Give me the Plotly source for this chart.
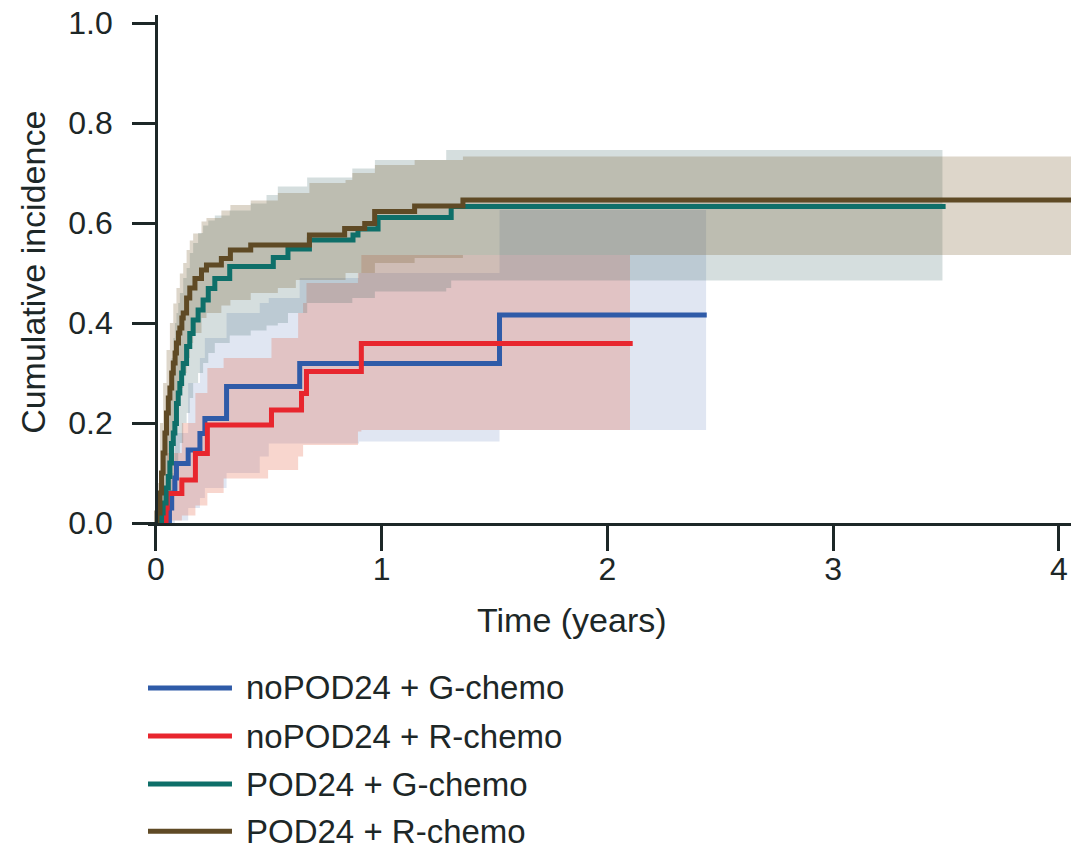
import plotly.graph_objects as go

# ---------------- data ----------------
series_names = ["noPOD24 + G-chemo", "noPOD24 + R-chemo", "POD24 + G-chemo", "POD24 + R-chemo"]
line_colors = ["#2f5ba8", "#e8262e", "#0e6f69", "#5f4a25"]
band_colors = ["rgba(46,90,168,0.15)", "rgba(228,90,60,0.25)", "rgba(45,90,90,0.20)", "rgba(120,90,45,0.25)"]

# noPOD24 + G-chemo
blue_t = [0, 0.060, 0.070, 0.084, 0.091, 0.143, 0.195, 0.217, 0.313, 0.637, 1.522]
blue_y = [0, 0.030, 0.060, 0.090, 0.119, 0.146, 0.179, 0.209, 0.273, 0.319, 0.416]
blue_end = 2.44
blue_band_t = [0.060, 0.084, 0.143, 0.195, 0.217, 0.313, 0.460, 0.500, 0.637, 0.900, 1.522]
blue_lo = [0.000, 0.005, 0.030, 0.050, 0.070, 0.100, 0.133, 0.159, 0.159, 0.163, 0.186]
blue_hi = [0.100, 0.180, 0.280, 0.330, 0.370, 0.420, 0.440, 0.450, 0.490, 0.500, 0.626]
blue_band_end = 2.437

# noPOD24 + R-chemo
red_t = [0, 0.045, 0.050, 0.115, 0.175, 0.228, 0.512, 0.645, 0.667, 0.910]
red_y = [0, 0.030, 0.059, 0.086, 0.139, 0.196, 0.226, 0.259, 0.303, 0.359]
red_end = 2.112
red_band_t = [0.045, 0.050, 0.115, 0.175, 0.228, 0.300, 0.497, 0.512, 0.630, 0.652, 0.667, 0.895, 0.910]
red_lo = [0.000, 0.005, 0.015, 0.035, 0.060, 0.089, 0.106, 0.106, 0.133, 0.156, 0.156, 0.183, 0.186]
red_hi = [0.080, 0.140, 0.200, 0.260, 0.310, 0.330, 0.330, 0.370, 0.420, 0.440, 0.480, 0.500, 0.536]
red_band_end = 2.10

# POD24 + G-chemo
teal_t = [0, 0.025, 0.032, 0.045, 0.055, 0.062, 0.069, 0.077, 0.084, 0.091, 0.099, 0.106,
          0.114, 0.121, 0.136, 0.150, 0.165, 0.187, 0.209, 0.232, 0.261, 0.327, 0.520,
          0.585, 0.680, 0.873, 0.895, 0.984, 1.308]
teal_y = [0, 0.020, 0.040, 0.070, 0.093, 0.120, 0.159, 0.180, 0.199, 0.239, 0.260, 0.279,
          0.300, 0.319, 0.353, 0.379, 0.406, 0.426, 0.446, 0.469, 0.489, 0.513, 0.531,
          0.548, 0.566, 0.576, 0.588, 0.611, 0.633]
teal_end = 3.498
teal_band_t = [0.025, 0.040, 0.055, 0.069, 0.077, 0.084, 0.091, 0.099, 0.106, 0.121, 0.136,
               0.150, 0.165, 0.187, 0.209, 0.232, 0.261, 0.327, 0.420, 0.490, 0.540, 0.585,
               0.670, 0.870, 0.970, 1.286, 1.308]
teal_lo = [0.000, 0.000, 0.030, 0.060, 0.080, 0.100, 0.120, 0.140, 0.160, 0.200, 0.220,
           0.250, 0.280, 0.300, 0.320, 0.340, 0.360, 0.375, 0.385, 0.395, 0.400, 0.420,
           0.440, 0.450, 0.463, 0.470, 0.485]
teal_hi = [0.100, 0.200, 0.270, 0.330, 0.370, 0.400, 0.420, 0.440, 0.460, 0.490, 0.510,
           0.540, 0.560, 0.580, 0.595, 0.605, 0.615, 0.625, 0.639, 0.656, 0.673, 0.673,
           0.691, 0.709, 0.726, 0.746, 0.746]
teal_band_end = 3.484

# POD24 + R-chemo
brown_t = [0, 0.005, 0.018, 0.025, 0.032, 0.040, 0.047, 0.055, 0.062, 0.070, 0.077, 0.085,
           0.091, 0.100, 0.106, 0.115, 0.121, 0.136, 0.150, 0.173, 0.202, 0.224, 0.290,
           0.330, 0.420, 0.680, 0.836, 0.925, 0.969, 1.146, 1.360]
brown_y = [0, 0.020, 0.060, 0.100, 0.140, 0.180, 0.220, 0.250, 0.270, 0.300, 0.320, 0.340,
           0.360, 0.380, 0.390, 0.410, 0.420, 0.450, 0.470, 0.489, 0.506, 0.516, 0.529,
           0.546, 0.556, 0.576, 0.589, 0.599, 0.623, 0.634, 0.646]
brown_end = 4.075
brown_band_t = [0.005, 0.018, 0.032, 0.047, 0.062, 0.077, 0.091, 0.106, 0.121, 0.136, 0.150,
                0.165, 0.202, 0.224, 0.290, 0.330, 0.420, 0.540, 0.620, 0.680, 0.840, 0.870,
                0.970, 1.146, 1.360]
brown_lo = [0.000, 0.000, 0.030, 0.080, 0.140, 0.190, 0.240, 0.270, 0.300, 0.330, 0.360,
            0.380, 0.410, 0.420, 0.435, 0.446, 0.460, 0.470, 0.486, 0.486, 0.500, 0.500,
            0.520, 0.530, 0.536]
brown_hi = [0.080, 0.200, 0.280, 0.346, 0.400, 0.439, 0.470, 0.499, 0.520, 0.546, 0.565,
            0.579, 0.603, 0.610, 0.625, 0.636, 0.645, 0.660, 0.660, 0.680, 0.686, 0.700,
            0.716, 0.726, 0.733]
brown_band_end = 4.06

x_ticks = [0, 1, 2, 3, 4]
y_ticks = [0.0, 0.2, 0.4, 0.6, 0.8, 1.0]
y_ticktext = ["0.0", "0.2", "0.4", "0.6", "0.8", "1.0"]
x_title = "Time (years)"
y_title = "Cumulative incidence"

# ---------------- figure ----------------
lines = [(blue_t, blue_y, blue_end), (red_t, red_y, red_end),
         (teal_t, teal_y, teal_end), (brown_t, brown_y, brown_end)]
bands = [(blue_band_t, blue_lo, blue_hi, blue_band_end), (red_band_t, red_lo, red_hi, red_band_end),
         (teal_band_t, teal_lo, teal_hi, teal_band_end), (brown_band_t, brown_lo, brown_hi, brown_band_end)]

TEXT = "#1d2727"
FONT = "Liberation Sans, Arial, sans-serif"

fig = go.Figure()

for (bt, lo, hi, bend), fc in zip(bands, band_colors):
    xs = list(bt) + [bend]
    fig.add_trace(go.Scatter(x=xs, y=list(lo) + [lo[-1]], mode="lines", line_shape="hv",
                             line=dict(width=0), hoverinfo="skip", showlegend=False))
    fig.add_trace(go.Scatter(x=xs, y=list(hi) + [hi[-1]], mode="lines", line_shape="hv",
                             line=dict(width=0), fill="tonexty", fillcolor=fc,
                             hoverinfo="skip", showlegend=False))

for (t, y, end), lc, name in zip(lines, line_colors, series_names):
    fig.add_trace(go.Scatter(x=list(t) + [end], y=list(y) + [y[-1]], mode="lines",
                             line_shape="hv", line=dict(color=lc, width=5),
                             name=name, showlegend=False))

x_range = [-0.035, 4.08]
y_pos = (0 - x_range[0]) / (x_range[1] - x_range[0])

# the page body adds an 8px offset; margins compensate so the plot lands where the reference has it
fig.update_layout(
    template="none",
    width=1079, height=849,
    margin=dict(l=140, r=10, t=7, b=334, autoexpand=False),
    paper_bgcolor="white", plot_bgcolor="white",
    font=dict(family=FONT, size=32, color=TEXT),
    showlegend=False,
    xaxis=dict(range=x_range, tickvals=x_ticks, showgrid=False, zeroline=False,
               showline=True, linecolor=TEXT, linewidth=2.5, ticks="outside",
               ticklen=25, tickwidth=2.5, tickcolor=TEXT, automargin=False,
               ticklabelstandoff=-9, ticklabeloverflow="allow",
               tickfont=dict(size=32, color=TEXT)),
    yaxis=dict(range=[0, 1.016], tickvals=y_ticks, ticktext=y_ticktext, showgrid=False,
               zeroline=False, showline=True, linecolor=TEXT, linewidth=2.5,
               ticks="outside", ticklen=23, tickwidth=2.5, tickcolor=TEXT,
               automargin=False, ticklabelstandoff=13, ticklabeloverflow="allow",
               anchor="free", position=y_pos, tickfont=dict(size=32, color=TEXT)),
)

fig.add_annotation(text=y_title, x=-0.124, y=0.494, xref="paper", yref="paper",
                   textangle=-90, showarrow=False, xanchor="center", yanchor="middle",
                   font=dict(size=34, color=TEXT))
fig.add_annotation(text=x_title, x=0.456, y=-0.191, xref="paper", yref="paper",
                   showarrow=False, xanchor="center", yanchor="middle",
                   font=dict(size=34, color=TEXT))

# legend (drawn below the plot)
leg_y = [-0.3248, -0.4193, -0.5138, -0.6070]
for name, lc, ly in zip(series_names, line_colors, leg_y):
    fig.add_shape(type="line", xref="paper", yref="paper", x0=0.0, x1=0.0904, y0=ly, y1=ly,
                  line=dict(color=lc, width=5))
    fig.add_annotation(text=name, x=0.1034, y=ly, xref="paper", yref="paper", showarrow=False,
                       xanchor="left", yanchor="middle", font=dict(size=33, color=TEXT))

fig.write_html("out.html")
